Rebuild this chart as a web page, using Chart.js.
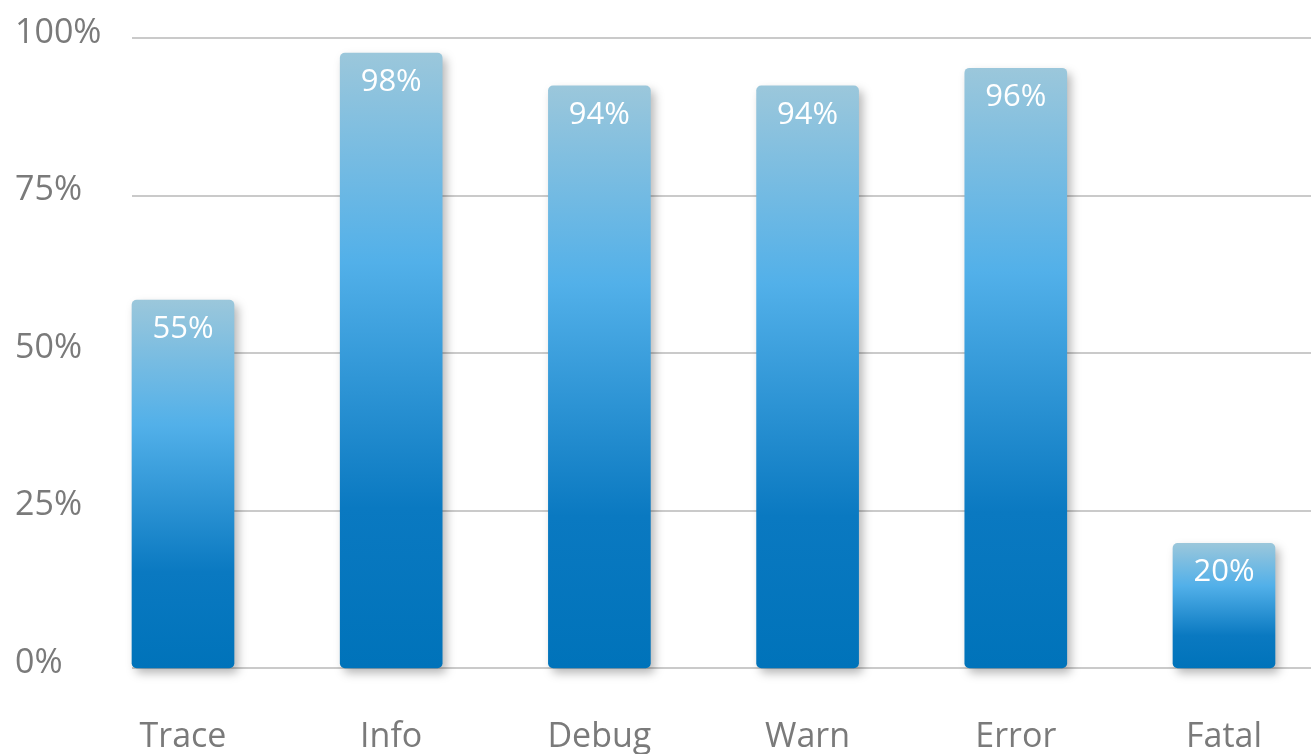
<!DOCTYPE html>
<html lang="en">
<head>
    <meta charset="UTF-8">
    <title>Log levels</title>
    <style>
        body{
            margin: 0;
            background-color: #ffffff;
        }
        #wrap{
            position: relative;
            width: 1311px;
            height: 754px;
        }
    </style>
</head>
<body>
    <div id="wrap"><canvas id="myChart"></canvas></div>

    <script src="https://cdn.jsdelivr.net/npm/chart.js"></script>

    <script>
        // data
        const categories = ['Trace', 'Info', 'Debug', 'Warn', 'Error', 'Fatal']
        const barHeights = [58.4, 97.6, 92.4, 92.4, 95.2, 19.8]     // height of each bar, in %
        const valueLabels = ['55%', '98%', '94%', '94%', '96%', '20%'] // text printed in the bars
        const yTicks = [0, 25, 50, 75, 100]

        const BAR_W = 102

        // each bar gets its own top-to-bottom gradient
        const barGradient = (c) => {
            const chart = c.chart
            if (!chart.chartArea || c.raw === undefined) return '#3a9fdf'
            const y = chart.scales.y
            const top = y.getPixelForValue(c.raw)
            const base = y.getPixelForValue(0)
            const g = chart.ctx.createLinearGradient(0, top, 0, base)
            g.addColorStop(0, '#9bc7db')
            g.addColorStop(0.34, '#52b0e9')
            g.addColorStop(0.74, '#0a79c1')
            g.addColorStop(1, '#0073ba')
            return g
        }

        const gridAndShadow = {
            id: 'gridAndShadow',
            beforeDatasetsDraw(chart) {
                const ctx = chart.ctx
                const y = chart.scales.y
                const x0 = chart.scales.x.getPixelForValue(0) - BAR_W / 2
                ctx.save()
                ctx.strokeStyle = '#cacaca'
                ctx.lineWidth = 2
                yTicks.forEach(t => {
                    const py = Math.round(y.getPixelForValue(t))
                    ctx.beginPath()
                    ctx.moveTo(x0, py)
                    ctx.lineTo(chart.width, py)
                    ctx.stroke()
                })
                ctx.restore()

                ctx.save()
                ctx.shadowColor = 'rgba(0,0,0,0.28)'
                ctx.shadowBlur = 10
                ctx.shadowOffsetX = 4
                ctx.shadowOffsetY = 5
            },
            afterDatasetsDraw(chart) {
                const ctx = chart.ctx
                ctx.restore()

                ctx.save()
                ctx.fillStyle = '#ffffff'
                ctx.font = '31px "Open Sans"'
                ctx.textAlign = 'center'
                ctx.textBaseline = 'middle'
                chart.getDatasetMeta(0).data.forEach((bar, i) => {
                    ctx.fillText(valueLabels[i], bar.x, bar.y + 29)
                })
                ctx.restore()
            }
        }

        const ctx = document.getElementById('myChart')
        const myChart = new Chart(ctx, {
            type: 'bar',
            data: {
                labels: categories,
                datasets: [{
                    data: barHeights,
                    backgroundColor: barGradient,
                    barThickness: BAR_W,
                    borderRadius: 5,
                    borderSkipped: false,
                    clip: false
                }]
            },
            options: {
                responsive: true,
                maintainAspectRatio: false,
                animation: false,
                layout: {
                    padding: { left: 15, right: 75, top: 38, bottom: 0 }
                },
                plugins: {
                    legend: { display: false },
                    tooltip: { enabled: false }
                },
                scales: {
                    x: {
                        offset: false,
                        grid: { display: false, drawTicks: false },
                        border: { display: false },
                        ticks: {
                            color: '#7a7a7a',
                            font: { family: 'Open Sans', size: 34 },
                            padding: 49,
                            maxRotation: 0,
                            autoSkip: false
                        },
                        afterFit: (s) => { s.height = 86 }
                    },
                    y: {
                        min: 0,
                        max: 100,
                        grid: { display: false, drawTicks: false },
                        border: { display: false },
                        afterBuildTicks: (s) => { s.ticks = yTicks.map(v => ({ value: v })) },
                        ticks: {
                            color: '#7a7a7a',
                            font: { family: 'Open Sans', size: 34 },
                            crossAlign: 'far',
                            labelOffset: -5,
                            callback: (v) => v + '%'
                        },
                        afterFit: (s) => { s.width = 168 }
                    }
                }
            },
            plugins: [gridAndShadow]
        })
    </script>
</body>
</html>
